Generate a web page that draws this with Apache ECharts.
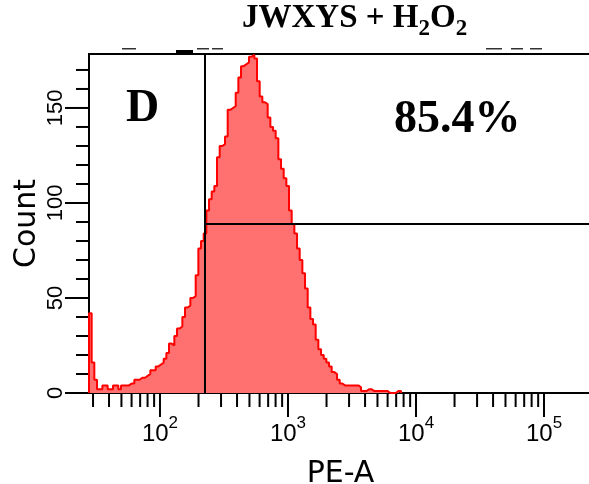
<!DOCTYPE html>
<html>
<head>
<meta charset="utf-8">
<script src="https://cdn.jsdelivr.net/npm/echarts@6/dist/echarts.min.js"></script>
<style>
  html, body { margin: 0; padding: 0; background: #fff; }
  #main { width: 589px; height: 484px; }
</style>
</head>
<body>
<div id="main"></div>
<script>
// histogram binning (PE-A, log display): first bin edge and bins per decade
var firstEdgePE = 27.9;
var binsPerDecade = 48;

// counts per bin
var counts = [
    42, 16, 7, 2, 2, 4, 4, 2, 2, 4,
    4, 2, 4, 4, 4, 5, 5, 7, 7, 8,
    8, 9, 10, 12, 12, 14, 15, 16, 18, 21,
    26, 25, 30, 34, 35, 40, 45, 46, 50, 51,
    62, 76, 80, 84, 96, 102, 106, 109, 124, 130,
    131, 135, 149, 150, 151, 158, 166, 172, 173, 174,
    177, 178, 176, 164, 156, 153, 152, 145, 140, 138,
    134, 123, 118, 113, 109, 96, 89, 84, 76, 70,
    63, 55, 45, 39, 36, 28, 23, 20, 18, 16,
    14, 11, 10, 7, 5, 4, 4, 4, 4, 4,
    4, 3, 1, 1, 2, 2, 1, 1, 1, 1,
    1, 1, 0, 0, 0, 1, 1
];

// axes
var xMin = 27.9, xMax = 237000;
var yMin = 0, yMax = 178.4;
var xMajorTicks = [100, 1000, 10000, 100000];
var xMinorTicks = [30, 40, 50, 60, 70, 80, 90,
    200, 300, 400, 500, 600, 700, 800, 900,
    2000, 3000, 4000, 5000, 6000, 7000, 8000, 9000,
    20000, 30000, 40000, 50000, 60000, 70000, 80000, 90000];
var yMajorTicks = [0, 50, 100, 150];
var yMinorTicks = [10, 20, 30, 40, 60, 70, 80, 90, 110, 120, 130, 140, 160, 170];

// gate
var gatePE = 222;
var gateCount = 89;
var gatePercent = '85.4%';

var chart = echarts.init(document.getElementById('main'));

function binEdge(i) {
    return firstEdgePE * Math.pow(10, i / binsPerDecade);
}

var histData = [[binEdge(0), 0]];
counts.forEach(function (c, i) {
    histData.push([binEdge(i), c]);
});
histData.push([binEdge(counts.length), 0]);

var xTickData = xMajorTicks.map(function (v) { return [v, 0, 24]; })
    .concat(xMinorTicks.map(function (v) { return [v, 0, 14]; }));
var yTickData = yMajorTicks.map(function (v) { return [xMin, v, 24]; })
    .concat(yMinorTicks.map(function (v) { return [xMin, v, 13]; }));

var tickFont = "'Liberation Sans Narrow', 'Liberation Sans', Arial, sans-serif";
var nameFont = "'DejaVu Sans', sans-serif";
var serif = "'Liberation Serif', 'Times New Roman', serif";

var option = {
    animation: false,
    backgroundColor: '#fff',
    title: {
        text: '{t|JWXYS + H}{s|2}{t|O}{s|2}',
        left: 242,
        top: 2,
        padding: 0,
        textStyle: {
            rich: {
                t: { fontFamily: serif, fontWeight: 'bold', fontSize: 33, lineHeight: 33, color: '#000' },
                s: { fontFamily: serif, fontWeight: 'bold', fontSize: 23, lineHeight: 23, color: '#000', padding: [22, 0, 0, 0] }
            }
        }
    },
    grid: {
        left: 89, top: 54, right: -3, bottom: 91,
        outerBoundsMode: 'none',
        containLabel: false,
        show: true, borderColor: '#000', borderWidth: 2, backgroundColor: 'transparent'
    },
    xAxis: {
        type: 'log',
        logBase: 10,
        min: xMin,
        max: xMax,
        axisLine: { lineStyle: { color: '#000', width: 2 } },
        axisTick: { show: false },
        minorTick: { show: false },
        splitLine: { show: false },
        axisLabel: {
            margin: 29,
            formatter: function (v) {
                var e = Math.log(v) / Math.LN10;
                var r = Math.round(e);
                if (Math.abs(e - r) > 1e-6) return '';
                return '{b|10}{s|' + r + '}';
            },
            rich: {
                b: { fontFamily: tickFont, fontSize: 24, lineHeight: 24, color: '#000' },
                s: { fontFamily: tickFont, fontSize: 17, lineHeight: 17, color: '#000', padding: [0, 0, 22, 0] }
            }
        },
        name: 'PE-A',
        nameLocation: 'middle',
        nameGap: 66,
        nameMoveOverlap: false,
        nameTextStyle: { fontFamily: nameFont, fontSize: 30, color: '#000' }
    },
    yAxis: {
        type: 'value',
        min: yMin,
        max: yMax,
        interval: 50,
        axisLine: { show: true, lineStyle: { color: '#000', width: 2 } },
        axisTick: { show: false },
        splitLine: { show: false },
        axisLabel: {
            rotate: 90,
            margin: 22,
            showMaxLabel: false,
            fontFamily: tickFont,
            fontSize: 22,
            color: '#000'
        },
        name: 'Count',
        nameLocation: 'middle',
        nameGap: 47,
        nameMoveOverlap: false,
        nameTextStyle: { fontFamily: nameFont, fontSize: 30, color: '#000' }
    },
    graphic: [
        { type: 'text', style: { x: 126, y: 109, text: 'D', align: 'left', verticalAlign: 'middle', font: 'bold 46px ' + serif, fill: '#000' } },
        { type: 'text', style: { x: 394, y: 120, text: gatePercent, align: 'left', verticalAlign: 'middle', font: 'bold 46px ' + serif, fill: '#000' } },
        { type: 'rect', shape: { x: 176, y: 50, width: 17, height: 4 }, style: { fill: '#000' } },
        { type: 'rect', shape: { x: 122, y: 48, width: 14, height: 1.5 }, style: { fill: '#333' } },
        { type: 'rect', shape: { x: 197, y: 48, width: 12, height: 1.5 }, style: { fill: '#333' } },
        { type: 'rect', shape: { x: 212, y: 48, width: 11, height: 1.5 }, style: { fill: '#333' } },
        { type: 'rect', shape: { x: 486, y: 48, width: 16, height: 1.5 }, style: { fill: '#333' } },
        { type: 'rect', shape: { x: 511, y: 48, width: 12, height: 1.5 }, style: { fill: '#333' } },
        { type: 'rect', shape: { x: 530, y: 48, width: 12, height: 1.5 }, style: { fill: '#333' } }
    ],
    series: [
        {
            name: 'Count',
            type: 'line',
            step: 'end',
            symbol: 'none',
            data: histData,
            lineStyle: { color: '#ff0000', width: 2 },
            areaStyle: { color: '#ff7070', opacity: 1 },
            markLine: {
                silent: true,
                symbol: ['none', 'none'],
                label: { show: false },
                lineStyle: { color: '#000', width: 2, type: 'solid' },
                data: [
                    [{ coord: [gatePE, yMin] }, { coord: [gatePE, yMax] }],
                    [{ coord: [gatePE, gateCount] }, { coord: [xMax, gateCount] }]
                ]
            }
        },
        {
            type: 'custom',
            coordinateSystem: 'cartesian2d',
            clip: false,
            silent: true,
            encode: { x: 0, y: 1 },
            data: xTickData,
            renderItem: function (params, api) {
                var p = api.coord([api.value(0), yMin]);
                return {
                    type: 'line',
                    shape: { x1: p[0], y1: p[1], x2: p[0], y2: p[1] + api.value(2) },
                    style: { stroke: '#000', lineWidth: 2 }
                };
            }
        },
        {
            type: 'custom',
            coordinateSystem: 'cartesian2d',
            clip: false,
            silent: true,
            encode: { x: 0, y: 1 },
            data: yTickData,
            renderItem: function (params, api) {
                var p = api.coord([xMin, api.value(1)]);
                return {
                    type: 'line',
                    shape: { x1: p[0] - api.value(2), y1: p[1], x2: p[0], y2: p[1] },
                    style: { stroke: '#000', lineWidth: 2 }
                };
            }
        }
    ]
};

chart.setOption(option);
</script>
</body>
</html>
